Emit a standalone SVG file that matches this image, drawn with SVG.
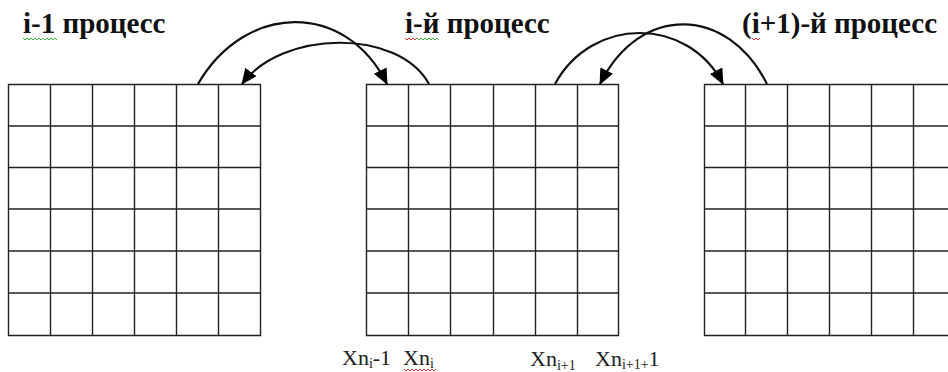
<svg xmlns="http://www.w3.org/2000/svg" width="948" height="372" viewBox="0 0 948 372">
<style>
.grid{fill:none;stroke:#222;stroke-width:1.4}
.conn{fill:none;stroke:#111;stroke-width:2.2}
.hdr{font-family:'Times New Roman','Liberation Serif',serif;font-weight:bold;font-size:29px;fill:#111}
.lbl{font-family:'Times New Roman','Liberation Serif',serif;font-size:22px;fill:#222}
.sub{font-size:14px}
.sq-g{fill:none;stroke:#3cb03c;stroke-width:1}
.sq-r{fill:none;stroke:#e03030;stroke-width:1}
</style>
<defs>
<marker id="ah" viewBox="0 0 16 14" refX="15" refY="7" markerWidth="16" markerHeight="14" markerUnits="userSpaceOnUse" orient="auto">
<path d="M0,0 L16,7 L0,14 Z" fill="#000"/>
</marker>
</defs>
<rect width="948" height="372" fill="#fff"/>

<g id="label-prev">
<text class="hdr" x="23" y="33">i-1 процесс</text>
<polyline class="sq-g" points="23,38 25,40 27,38 29,40 31,38 33,40 35,38 37,40 39,38 41,40 43,38 45,40 47,38 49,40 51,38 53,40 55,38 57,40"/>
</g>
<g id="label-cur">
<text class="hdr" x="405" y="33">i-й процесс</text>
<polyline class="sq-r" points="405,38 407,40 409,38 411,40 413,38 415,40 417,38"/>
<polyline class="sq-g" points="417,38 419,40 421,38 423,40 425,38 427,40 429,38 431,40 433,38 435,40 437,38 439,40"/>
</g>
<g id="label-next">
<text class="hdr" x="742" y="33">(i+1)-й процесс</text>
<polyline class="sq-r" points="752,38 754,40 756,38 758,40 760,38"/>
</g>

<g id="grid-prev">
<path class="grid" d="M8.5,84.5 H260.5 V335.5 H8.5 Z M50.5,84.5 V335.5 M92.5,84.5 V335.5 M134.5,84.5 V335.5 M176.5,84.5 V335.5 M218.5,84.5 V335.5 M8.5,126 H260.5 M8.5,167.5 H260.5 M8.5,209 H260.5 M8.5,251 H260.5 M8.5,293 H260.5"/>
</g>
<g id="grid-cur">
<path class="grid" d="M366.5,84.5 H618.5 V335.5 H366.5 Z M408.5,84.5 V335.5 M450.5,84.5 V335.5 M493.5,84.5 V335.5 M535.5,84.5 V335.5 M577.5,84.5 V335.5 M366.5,126 H618.5 M366.5,167.5 H618.5 M366.5,209 H618.5 M366.5,251 H618.5 M366.5,293 H618.5"/>
</g>
<g id="grid-next">
<path class="grid" d="M704.5,84.5 H956 V335.5 H704.5 Z M745.5,84.5 V335.5 M787.5,84.5 V335.5 M829.5,84.5 V335.5 M871.5,84.5 V335.5 M913.5,84.5 V335.5 M704.5,126 H956 M704.5,167.5 H956 M704.5,209 H956 M704.5,251 H956 M704.5,293 H956"/>
</g>

<g id="connectors">
<path class="conn" d="M198,84 C245,3 345,0 387,84" marker-end="url(#ah)"/>
<path class="conn" d="M429,84 C398,28 282,30 242,84" marker-end="url(#ah)"/>
<path class="conn" d="M555,84 C592,16 688,16 723,84" marker-end="url(#ah)"/>
<path class="conn" d="M767,84 C728,6 640,3 600,84" marker-end="url(#ah)"/>
</g>

<g id="index-labels">
<text class="lbl" x="342" y="365">Xn<tspan class="sub" dy="3">i</tspan><tspan dy="-3">-1</tspan></text>
<text class="lbl" x="403" y="365">Xn<tspan class="sub" dy="3">i</tspan></text>
<polyline class="sq-r" points="404,369 406,371 408,369 410,371 412,369 414,371 416,369 418,371 420,369 422,371 424,369 426,371 428,369 430,371 432,369 434,371 436,369"/>
<text class="lbl" x="530" y="366">Xn<tspan class="sub" dy="4">i+1</tspan></text>
<text class="lbl" x="595" y="366">Xn<tspan class="sub" dy="3">i+1+</tspan><tspan dy="-3">1</tspan></text>
</g>
</svg>
